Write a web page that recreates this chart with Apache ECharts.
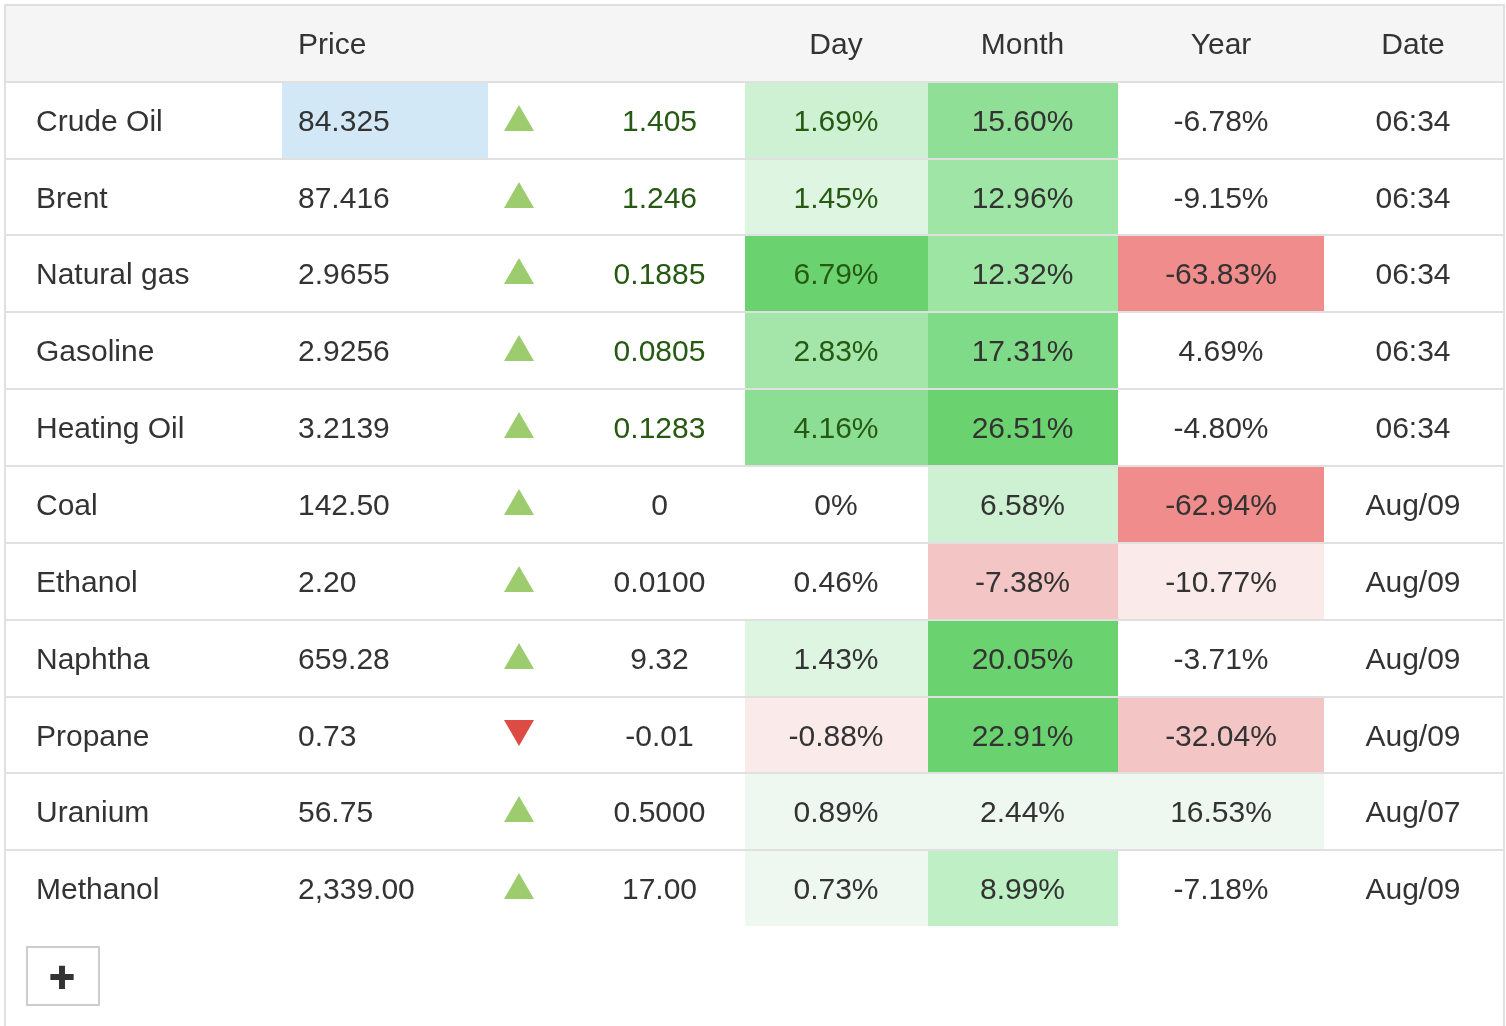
<!DOCTYPE html>
<html>
<head>
  <meta charset="UTF-8">
  <script src="https://cdnjs.cloudflare.com/ajax/libs/echarts/6.0.0/echarts.min.js"></script>
  <title></title>
  <style>body { margin: 0; background: #fff; } #chart { width: 1506px; height: 1026px; }</style>
</head>
<body>
  <div id="chart"></div>
  <script>
  // name, price, up?, change, day, month, year, date
  const rows = [
    ["Crude Oil", "84.325", 1, "1.405", "1.69%", "15.60%", "-6.78%", "06:34"],
    ["Brent", "87.416", 1, "1.246", "1.45%", "12.96%", "-9.15%", "06:34"],
    ["Natural gas", "2.9655", 1, "0.1885", "6.79%", "12.32%", "-63.83%", "06:34"],
    ["Gasoline", "2.9256", 1, "0.0805", "2.83%", "17.31%", "4.69%", "06:34"],
    ["Heating Oil", "3.2139", 1, "0.1283", "4.16%", "26.51%", "-4.80%", "06:34"],
    ["Coal", "142.50", 1, "0", "0%", "6.58%", "-62.94%", "Aug/09"],
    ["Ethanol", "2.20", 1, "0.0100", "0.46%", "-7.38%", "-10.77%", "Aug/09"],
    ["Naphtha", "659.28", 1, "9.32", "1.43%", "20.05%", "-3.71%", "Aug/09"],
    ["Propane", "0.73", 0, "-0.01", "-0.88%", "22.91%", "-32.04%", "Aug/09"],
    ["Uranium", "56.75", 1, "0.5000", "0.89%", "2.44%", "16.53%", "Aug/07"],
    ["Methanol", "2,339.00", 1, "17.00", "0.73%", "8.99%", "-7.18%", "Aug/09"]
  ];
  // heat colours for day, month, year
  const heat = [
    ["#cdf1d2", "#8fdf97", null],
    ["#def5e2", "#9fe6a6", null],
    ["#6ad36f", "#9de5a3", "#f08c8c"],
    ["#a4e6aa", "#7fdb87", null],
    ["#8cde94", "#6ad36f", null],
    [null, "#cdf1d2", "#f08c8c"],
    [null, "#f4c5c5", "#fbeaea"],
    ["#def5e2", "#6ad36f", null],
    ["#fbeaea", "#6ad36f", "#f4c5c5"],
    ["#eef8f0", "#eef8f0", "#eef8f0"],
    ["#eef8f0", "#bfefc5", null]
  ];
  const header = ["", "Price", "", "", "Day", "Month", "Year", "Date"];
  const edges = [83, 160, 236, 313, 390, 467, 544, 621, 698, 774, 851, 928];
  const TEXT = "#333333", GREEN = "#265a12", LINE = "#e0e0e0";
  // column bounds, text anchor
  const cols = [
    {x0: 6, x1: 282, tx: 36, align: "left"},
    {x0: 282, x1: 488, tx: 298, align: "left"},
    {x0: 488, x1: 574, tx: 519, align: "center"},
    {x0: 574, x1: 745, tx: 659.5, align: "center"},
    {x0: 745, x1: 928, tx: 836, align: "center"},
    {x0: 928, x1: 1118, tx: 1022.5, align: "center"},
    {x0: 1118, x1: 1324, tx: 1221, align: "center"},
    {x0: 1324, x1: 1503, tx: 1413, align: "center"}
  ];

  // [x0, y0, x1, y1, fill]
  let fills = [[6, 6, 1503, 81, "#f5f5f5"]];
  let labels = [];
  let marks = [];
  header.forEach((h, c) => {
    if (h) labels.push([cols[c].tx, 46, h, cols[c].align, TEXT]);
  });
  rows.forEach((r, i) => {
    let top = edges[i], bottom = edges[i + 1] - 2, mid = (top + bottom) / 2;
    if (i == 0) fills.push([282, top, 488, bottom, "#d2e8f6"]);
    heat[i].forEach((color, k) => {
      if (color) fills.push([cols[k + 4].x0, top, cols[k + 4].x1, bottom, color]);
    });
    r.forEach((v, c) => {
      if (c == 2) {
        marks.push({value: [cols[2].tx, top + 35], symbolRotate: v ? 0 : 180,
          itemStyle: {color: v ? "#9ccc6e" : "#dd4b45", opacity: 1}});
        return;
      }
      // change and day are green for the first five rows
      let green = (c == 3 || c == 4) && i < 5;
      labels.push([cols[c].tx, mid + 2.5, v, cols[c].align, green ? GREEN : TEXT]);
    });
  });

  // horizontal rules and outer border
  let rules = edges.slice(0, -1).map(y => [6, y - 2, 1503, y, LINE]);
  rules.push([4, 4, 1505, 6, LINE]);
  rules.push([4, 4, 6, 1026, LINE]);
  rules.push([1503, 4, 1505, 1026, LINE]);
  // the + button
  rules.push([26, 946, 100, 948, "#cccccc"]);
  rules.push([26, 1004, 100, 1006, "#cccccc"]);
  rules.push([26, 946, 28, 1006, "#cccccc"]);
  rules.push([98, 946, 100, 1006, "#cccccc"]);

  function rectItem(params, api) {
    let a = api.coord([api.value(0), api.value(1)]);
    let b = api.coord([api.value(2), api.value(3)]);
    return {
      type: "rect",
      shape: {x: a[0], y: a[1], width: b[0] - a[0], height: b[1] - a[1]},
      style: {fill: api.value(4)}
    };
  }
  function textItem(params, api) {
    let p = api.coord([api.value(0), api.value(1)]);
    let font = api.value(5);
    let style = {
      x: p[0], y: p[1], text: api.value(2), fill: api.value(4),
      align: api.value(3), verticalAlign: "middle",
      font: font || '30px "Liberation Sans"'
    };
    // the + glyph is heavier than the bold font
    if (font) {
      style.stroke = api.value(4);
      style.lineWidth = 2;
    }
    return {type: "text", style: style};
  }
  labels.push([62, 979, "+", "center", TEXT, 'bold 34px "DejaVu Sans"']);

  let chart = echarts.init(document.getElementById("chart"));
  chart.setOption({
    animation: false,
    backgroundColor: "#ffffff",
    grid: {left: 0, right: 0, top: 0, bottom: 0},
    xAxis: {type: "value", min: 0, max: 1506, show: false},
    yAxis: {type: "value", min: 0, max: 1026, inverse: true, show: false},
    series: [
      {type: "custom", silent: true, renderItem: rectItem, data: fills,
       encode: {x: [0, 2], y: [1, 3]}, dimensions: ["x0", "y0", "x1", "y1", {name: "c", type: "ordinal"}]},
      {type: "custom", silent: true, renderItem: rectItem, data: rules,
       encode: {x: [0, 2], y: [1, 3]}, dimensions: ["x0", "y0", "x1", "y1", {name: "c", type: "ordinal"}]},
      {type: "scatter", silent: true, symbol: "triangle", symbolSize: [30, 26], data: marks},
      {type: "custom", silent: true, renderItem: textItem, data: labels,
       encode: {x: 0, y: 1},
       dimensions: ["x", "y", {name: "t", type: "ordinal"}, {name: "a", type: "ordinal"}, {name: "c", type: "ordinal"}, {name: "f", type: "ordinal"}]}
    ]
  });
  </script>
</body>
</html>
